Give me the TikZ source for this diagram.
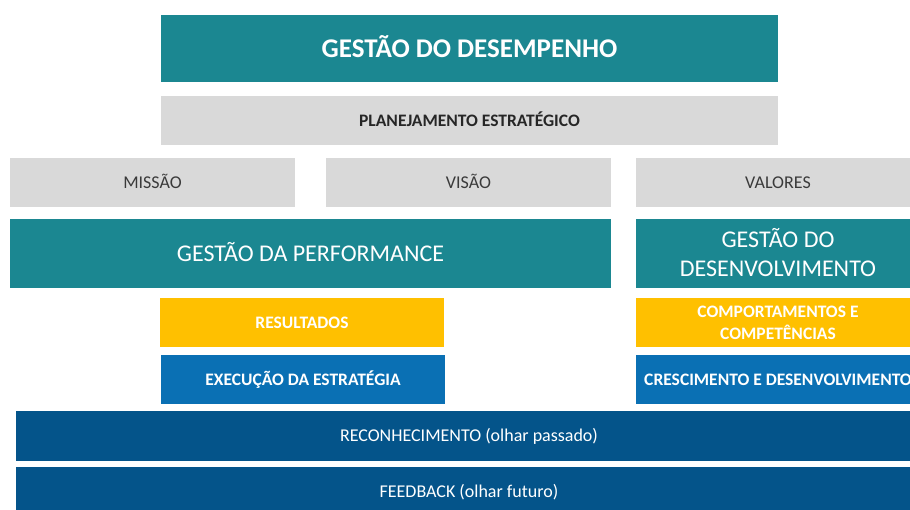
\documentclass[tikz,border=0pt]{standalone}
\usepackage{fontspec}
\setmainfont{Carlito}
\definecolor{teal1}{HTML}{1B8791}
\definecolor{gray1}{HTML}{D9D9D9}
\definecolor{yell1}{HTML}{FFC000}
\definecolor{blue1}{HTML}{0A70B4}
\definecolor{navy1}{HTML}{04548A}
\definecolor{txtgray}{HTML}{3A3A3A}
\begin{document}
\begin{tikzpicture}[x=1pt,y=-1pt,
  base/.style={inner sep=0pt,outer sep=0pt,align=center,anchor=center},
  oneline/.style={text height=#1,text depth=0pt},
  tealbox/.style={base,fill=teal1,text=white,font=\fontsize{24}{29}\selectfont},
  graybox/.style={base,oneline=11.5pt,fill=gray1,text=txtgray,font=\fontsize{18}{22}\selectfont},
  yellbox/.style={base,fill=yell1,text=white,font=\bfseries\fontsize{17.5}{22}\selectfont},
  bluebox/.style={base,oneline=11.2pt,fill=blue1,text=white,font=\bfseries\fontsize{17.5}{22}\selectfont},
  navybox/.style={base,oneline=11.5pt,fill=navy1,text=white,font=\fontsize{18}{22}\selectfont}]
\useasboundingbox (0,0) rectangle (910,509);
\fill[white] (0,0) rectangle (910,509);
\node[tealbox,oneline=17.3pt,font=\bfseries\fontsize{27}{32}\selectfont,minimum width=617pt,minimum height=67pt] (top) at (469.5,48.5) {GESTÃO DO DESEMPENHO};
\node[graybox,oneline=11.2pt,font=\bfseries\fontsize{17.5}{22}\selectfont,text=black!85,minimum width=617pt,minimum height=49pt] (plan) at (469.5,120.5) {PLANEJAMENTO ESTRATÉGICO};
\node[graybox,minimum width=285pt,minimum height=49pt] (missao) at (152.5,182.5) {MISSÃO};
\node[graybox,minimum width=285pt,minimum height=49pt] (visao) at (468.5,182.5) {VISÃO};
\node[graybox,minimum width=284pt,minimum height=49pt] (valores) at (778,182.5) {VALORES};
\node[tealbox,oneline=15.4pt,minimum width=601pt,minimum height=69pt] (perf) at (310.5,253.5) {GESTÃO DA PERFORMANCE};
\node[tealbox,minimum width=284pt,minimum height=69pt] (desenv) at (778,253) {GESTÃO DO\\DESENVOLVIMENTO};
\node[yellbox,oneline=11.2pt,minimum width=284pt,minimum height=49pt] (result) at (302,322.5) {RESULTADOS};
\node[yellbox,minimum width=284pt,minimum height=49pt] (comport) at (778,322.5) {COMPORTAMENTOS E\\COMPETÊNCIAS};
\node[bluebox,minimum width=284pt,minimum height=49pt] (exec) at (303,379.5) {EXECUÇÃO DA ESTRATÉGIA};
\node[bluebox,minimum width=284pt,minimum height=49pt] (cresc) at (778,379.5) {CRESCIMENTO E DESENVOLVIMENTO};
\node[navybox,minimum width=906pt,minimum height=50pt] (recon) at (469,436) {RECONHECIMENTO (olhar passado)};
\node[navybox,minimum width=906pt,minimum height=50pt] (feed) at (469,492) {FEEDBACK (olhar futuro)};
\end{tikzpicture}
\end{document}
